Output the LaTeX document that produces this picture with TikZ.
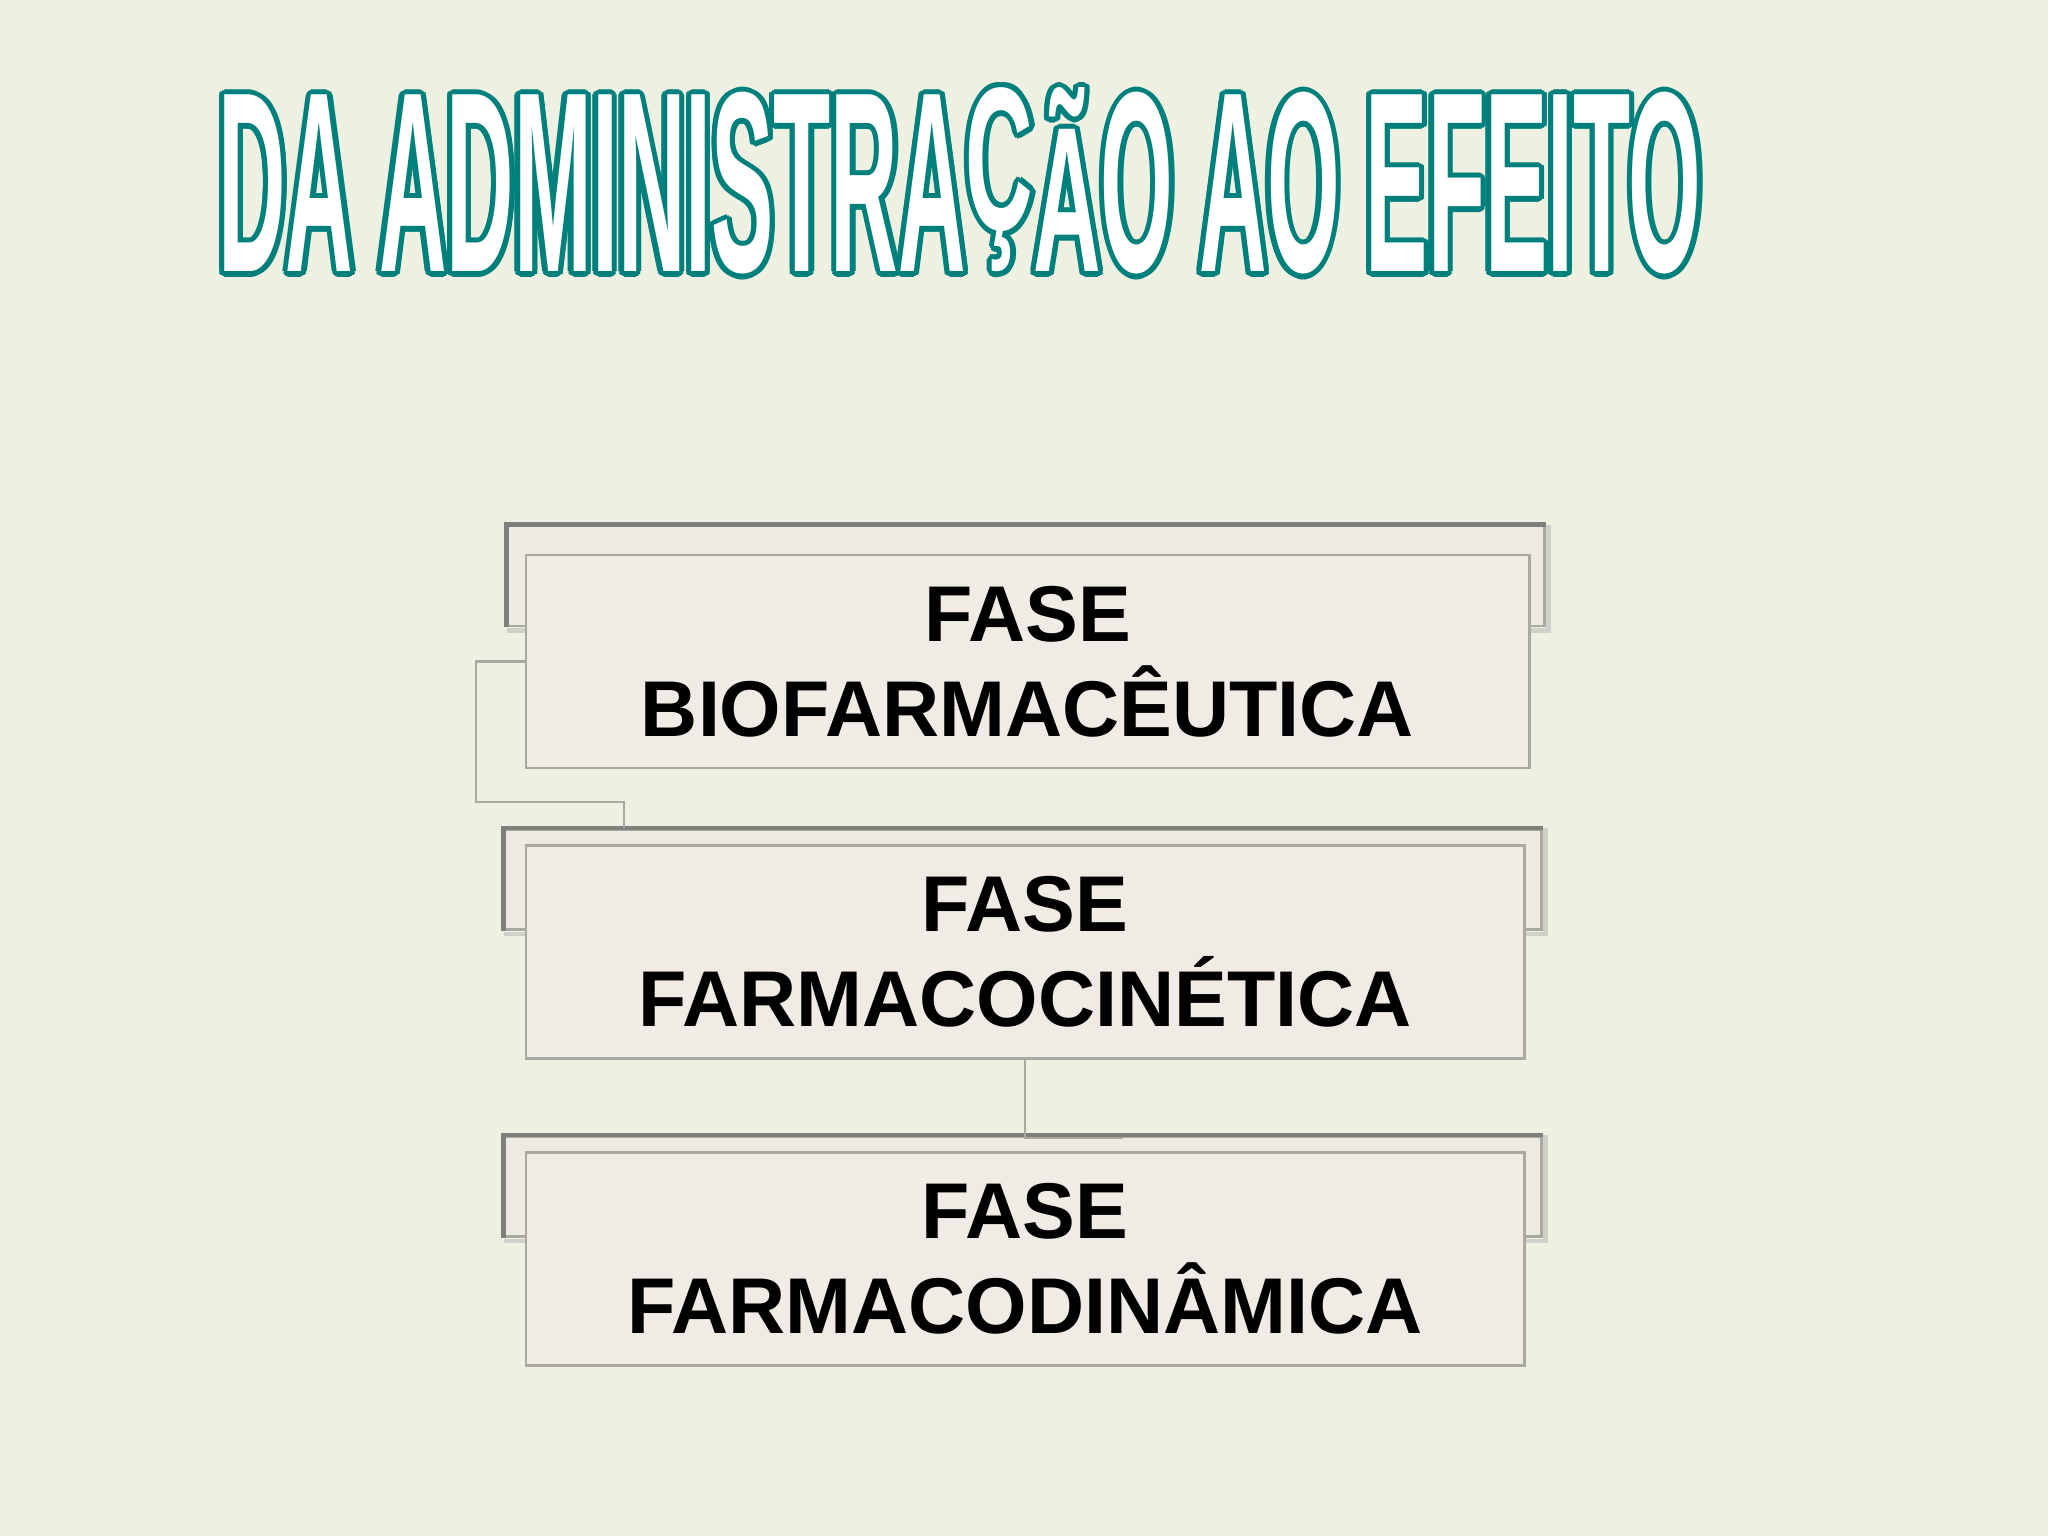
\documentclass[tikz,border=0pt]{standalone}
\usepackage{fontspec}
\setmainfont{Liberation Sans}
\usepackage{contour}
\contourlength{1.5pt} % Thickness of the title outline

\definecolor{slidebg}{HTML}{EEF0E2}
\definecolor{boxfill}{HTML}{F0EBE4}
\definecolor{backfill}{HTML}{ECEAE2}
\definecolor{boxline}{HTML}{A9A9A1}
\definecolor{frameline}{HTML}{7E807B}
\definecolor{titleteal}{HTML}{00807C}

% Title letters, squeezed; accented ones fitted into the cap height
\newsavebox{\tletterbox}
\newcommand{\tletters}[1]{\scalebox{2.659}[7.31]{#1}}
\newcommand{\tfitted}[1]{\sbox{\tletterbox}{\resizebox*{19.2pt}{52.35pt}{#1}}\raisebox{\dp\tletterbox}{\usebox{\tletterbox}}}

\tikzset{fasebox/.style={ % Front box holding the phase name
            draw=boxline,
            line width=0.85pt,
            fill=boxfill,
            minimum height=2.13cm,
            inner sep=0pt,
            align=center,
            font=\fontsize{22.5}{27}\selectfont\bfseries},
        backframe/.style={ % Frame sitting behind each box
            draw=boxline,
            line width=0.85pt,
            fill=backfill,
            minimum width=10.36cm,
            minimum height=1.0cm,
            inner sep=0pt},
        frametop/.style={ % Darker top and left edge of the frame
            draw=frameline,
            line width=1.4pt},
        frameshadow/.style={ % Soft shadow on the right and bottom of the frame
            draw=boxline!55,
            line width=1.2pt},
        link/.style={ % Connectors between the boxes
            draw=boxline,
            line width=0.7pt}
        }

\begin{document}
\begin{tikzpicture}[y=-1cm]
    \useasboundingbox (0,0) rectangle (20.48,15.36);
    \fill[slidebg] (0,0) rectangle (20.48,15.36);

    \node[inner sep=0pt, anchor=base, text=white, font=\fontsize{10}{12}\selectfont\bfseries] (title) at (9.60,2.72)
        {\contour{titleteal}{\tletters{DA ADMINISTRA}\tfitted{Ç}\tfitted{Ã}\tletters{O AO EFEITO}}};

    \node[backframe] (bioback) at (10.26,5.76) {};
    \draw[frameshadow] ([shift={(0.03,0)}]bioback.north east) -- ([shift={(0.03,0.03)}]bioback.south east) -- ([shift={(0,0.03)}]bioback.south west);
    \draw[frametop] (bioback.south west) -- (bioback.north west) -- (bioback.north east);
    \node[fasebox, minimum width=10.03cm] (bio) at (10.275,6.615) {FASE\\BIOFARMACÊUTICA};

    \node[backframe] (cinback) at (10.23,8.795) {};
    \draw[frameshadow] ([shift={(0.03,0)}]cinback.north east) -- ([shift={(0.03,0.03)}]cinback.south east) -- ([shift={(0,0.03)}]cinback.south west);
    \draw[frametop] (cinback.south west) -- (cinback.north west) -- (cinback.north east);
    \node[fasebox, minimum width=9.98cm] (cin) at (10.25,9.52) {FASE\\FARMACOCINÉTICA};

    \node[backframe] (dinback) at (10.23,11.865) {};
    \draw[frameshadow] ([shift={(0.03,0)}]dinback.north east) -- ([shift={(0.03,0.03)}]dinback.south east) -- ([shift={(0,0.03)}]dinback.south west);
    \draw[frametop] (dinback.south west) -- (dinback.north west) -- (dinback.north east);
    \node[fasebox, minimum width=9.98cm] (din) at (10.25,12.59) {FASE\\FARMACODINÂMICA};

    \coordinate (elbow) at (6.24,8.02);
    \draw[link] (bio.west) -| (4.76,8.02) -- (elbow) -- (elbow |- cinback.north);
    \draw[link] (cin.south) -- ([yshift=-0.03cm]cin.south |- dinback.north) -- ++(0.98,0);
\end{tikzpicture}
\end{document}
